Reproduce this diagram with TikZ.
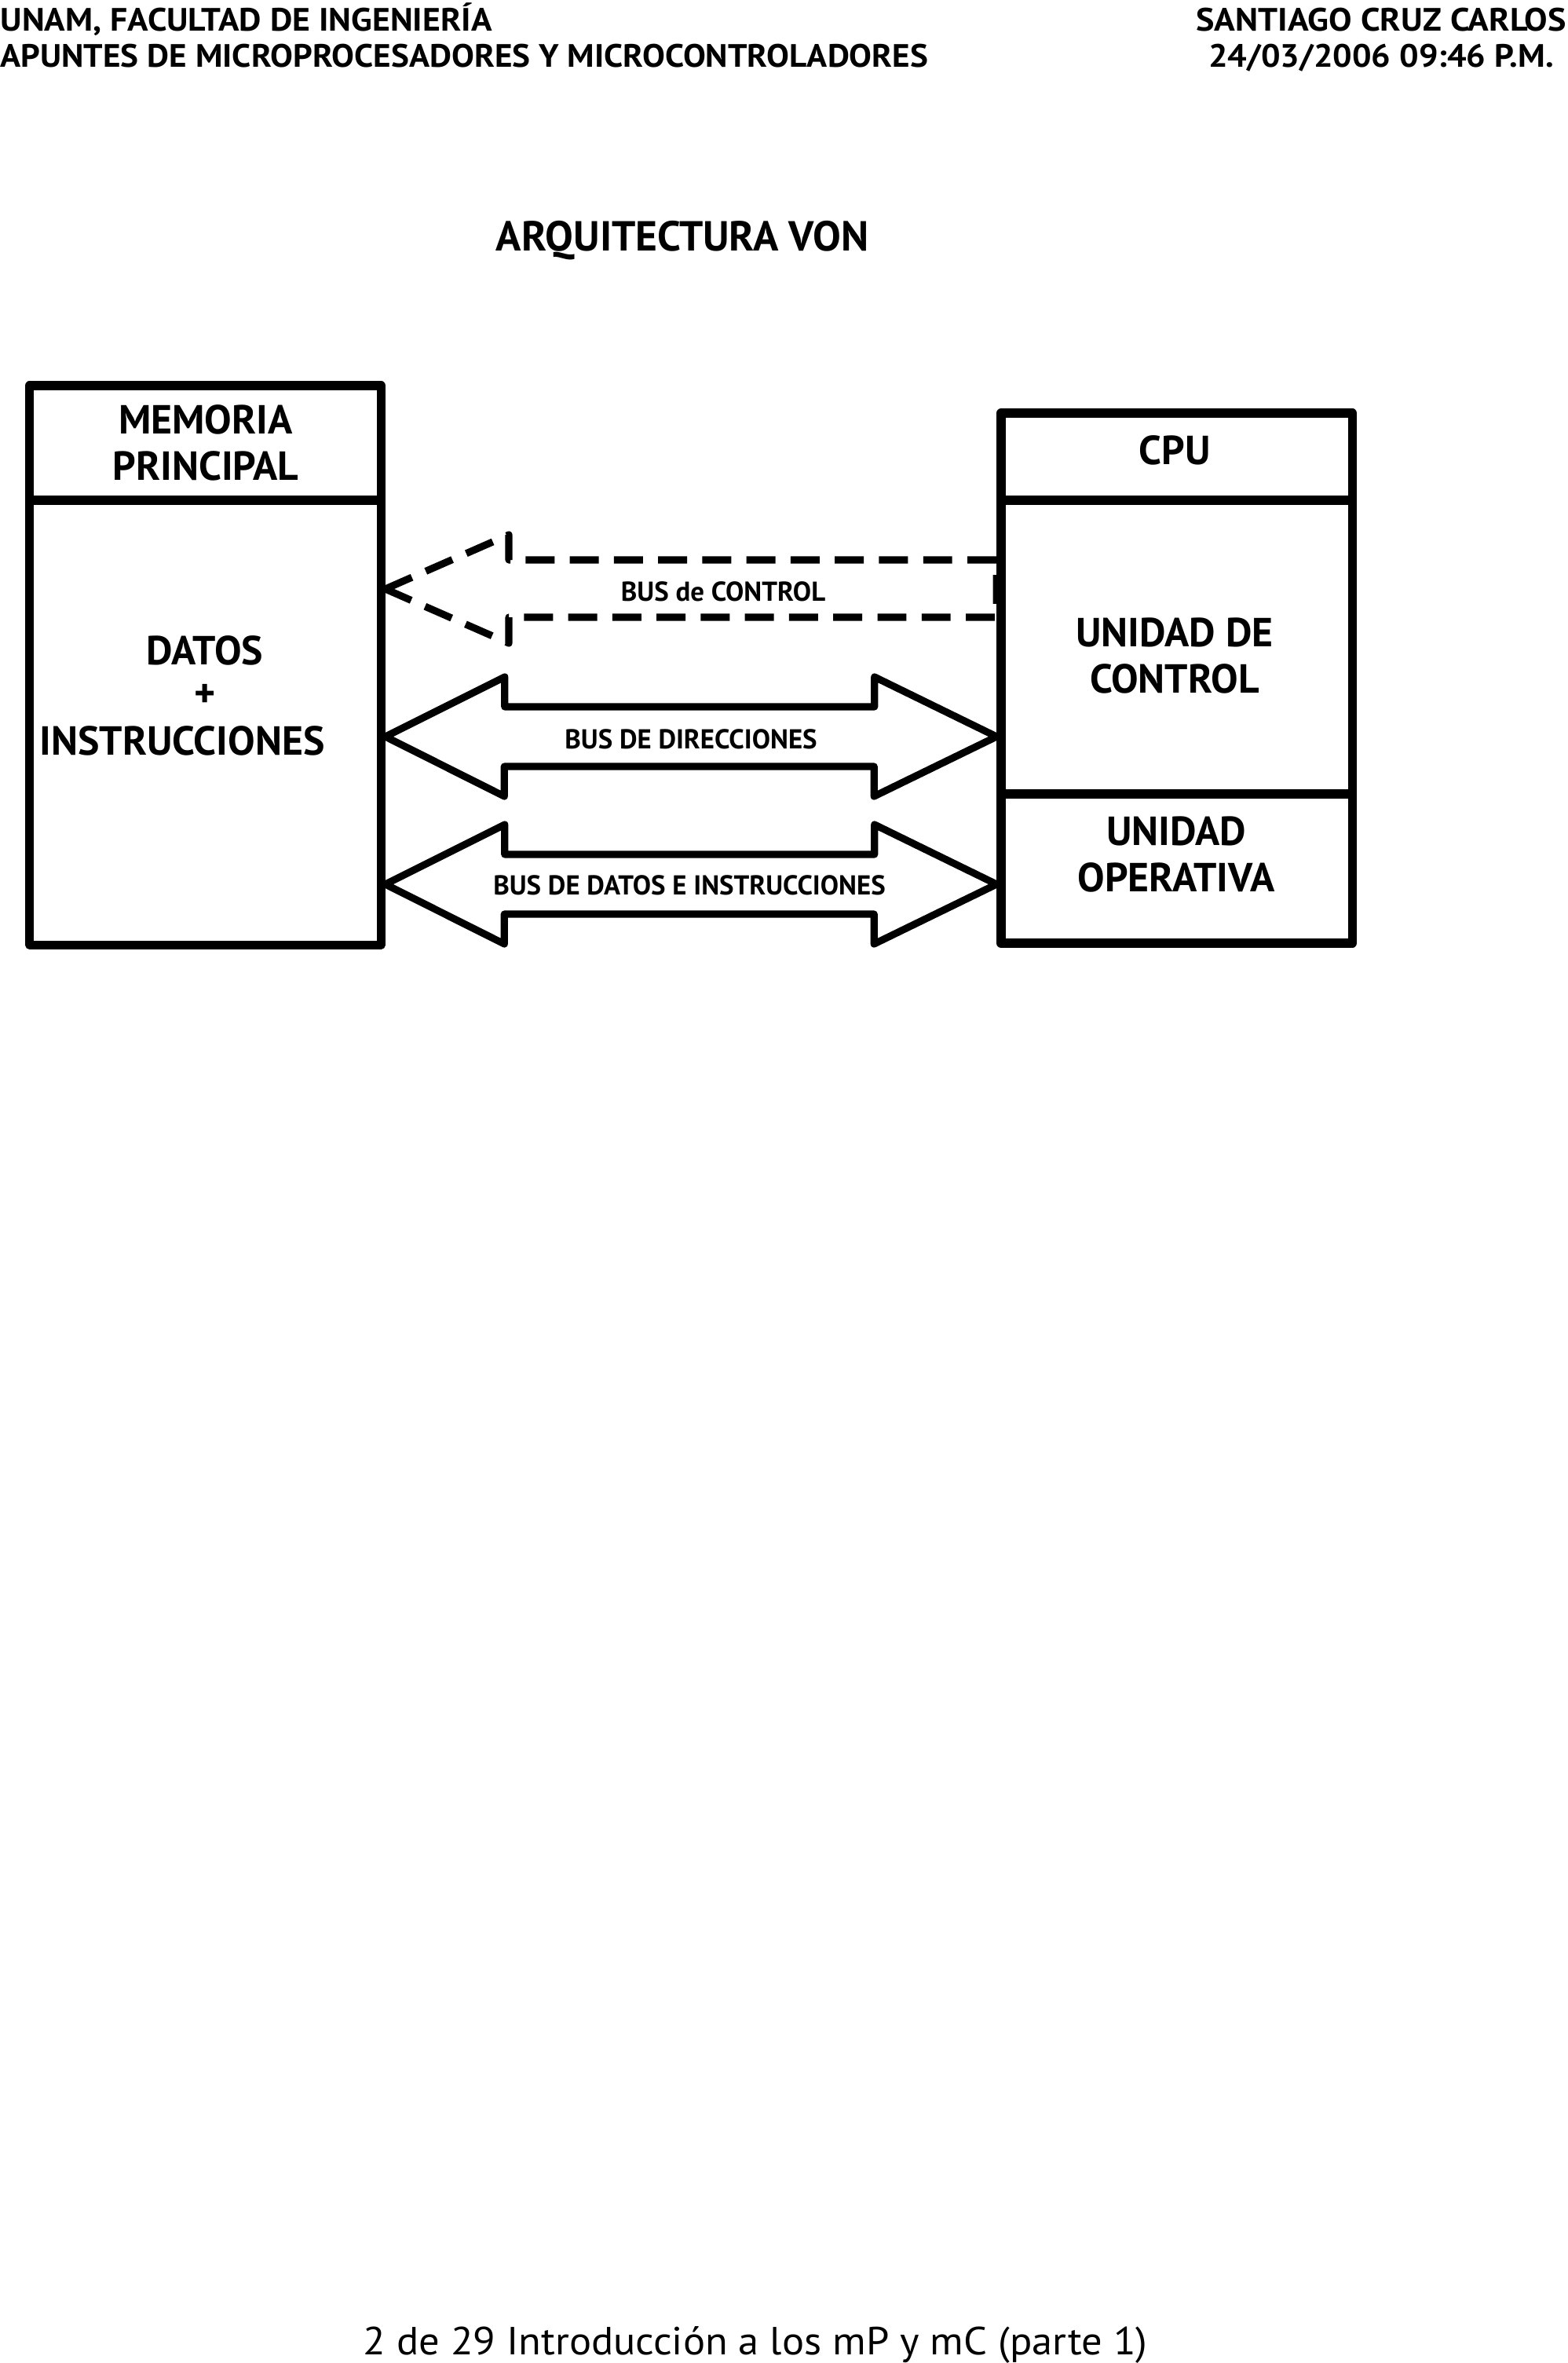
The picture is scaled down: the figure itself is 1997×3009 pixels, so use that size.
\documentclass[tikz,border=0pt]{standalone}
\usepackage{fontspec}
\setmainfont{PT Sans}
\usepackage{graphicx}
\begin{document}
\begin{tikzpicture}[x=0.01cm, y=-0.01cm, line join=round,
  caja/.style={draw, line width=3.2pt, minimum width=4.47cm, inner sep=0pt},
  letra/.style={font=\bfseries\fontsize{14.7}{16.8}\selectfont, align=center, inner sep=0pt},
  etiq/.style={font=\bfseries\fontsize{9.9}{11}\selectfont, inner sep=0pt, anchor=base},
  bus/.style={draw, line width=2.6pt},
  cab/.style={font=\bfseries\fontsize{11.7}{14}\selectfont, inner sep=0pt}]
  \useasboundingbox (0,0) rectangle (1997,3009);

  % encabezado
  \node[cab, anchor=base west] (h1) at (0,40) {\resizebox{178pt}{\height}{UNAM, FACULTAD DE INGENIERÍA}};
  \node[cab, anchor=base west] (h2) at (0,86) {\resizebox{336pt}{\height}{APUNTES DE MICROPROCESADORES Y MICROCONTROLADORES}};
  \node[cab, anchor=base] (h3) at (1759,40) {\resizebox{134pt}{\height}{SANTIAGO CRUZ CARLOS}};
  \node[cab, anchor=base] (h4) at (1759,86) {\resizebox{125pt}{\height}{24/03/2006 09:46 P.M.}};

  \node[letra, anchor=base, font=\bfseries\fontsize{15.2}{17}\selectfont] (titulo) at (869,320) {ARQUITECTURA VON};

  % memoria
  \node[caja, minimum height=1.46cm] (memtit) at (261.5,564) {};
  \node[caja, minimum height=5.66cm] (memdat) at (261.5,920) {};
  \node[letra] (memtxt) at (262,564) {MEMORIA\\PRINCIPAL};
  \node[letra, anchor=base] (datos) at (261,846) {DATOS};
  \node[letra] (mas) at (261,886) {+};
  \node[letra, anchor=base] (instr) at (232,961) {INSTRUCCIONES};

  % cpu
  \node[caja, minimum height=1.11cm] (cputit) at (1498.5,581.5) {};
  \node[caja, minimum height=3.74cm] (cpuctl) at (1498.5,824) {};
  \node[caja, minimum height=1.90cm] (cpuope) at (1498.5,1106) {};
  \node[letra, anchor=base] (cputxt) at (1496,591) {CPU};
  \node[letra] (ctltxt) at (1496,835) {UNIDAD DE\\CONTROL};
  \node[letra] (opetxt) at (1498,1088) {UNIDAD\\OPERATIVA};

  % buses
  \coordinate (ctlL) at (memdat.east |- 0,750);
  \coordinate (ctlR) at (cpuctl.west |- 0,750);
  \coordinate (dirL) at (memdat.east |- 0,938);
  \coordinate (dirR) at (cpuctl.west |- 0,938);
  \coordinate (datL) at (memdat.east |- 0,1126);
  \coordinate (datR) at (cpuope.west |- 0,1126);

  \draw[bus, dash pattern=on 10.5pt off 5.5pt] (ctlL) -- (648,681) -- (648,713) -- (ctlR |- 0,713)
    -- (ctlR |- 0,786) -- (648,786) -- (648,819) -- cycle;
  \draw[bus] (dirL) -- ++(152,-76) -- ++(0,38) -- ++(471,0) -- ++(0,-38) -- (dirR)
    -- ++(-156,76) -- ++(0,-38) -- ++(-471,0) -- ++(0,38) -- cycle;
  \draw[bus] (datL) -- ++(152,-76) -- ++(0,38) -- ++(471,0) -- ++(0,-38) -- (datR)
    -- ++(-156,76) -- ++(0,-38) -- ++(-471,0) -- ++(0,38) -- cycle;

  \node[etiq] (ctllbl) at (921,765) {BUS de CONTROL};
  \node[etiq] (dirlbl) at (880,953) {BUS DE DIRECCIONES};
  \node[etiq] (datlbl) at (878,1139) {BUS DE DATOS E INSTRUCCIONES};

  % pie
  \node[inner sep=0pt, anchor=base, font=\fontsize{14.2}{17}\selectfont] (pie) at (962,2998)
    {\resizebox{284pt}{\height}{2 de 29 Introducción a los mP y mC (parte 1)}};
\end{tikzpicture}
\end{document}
